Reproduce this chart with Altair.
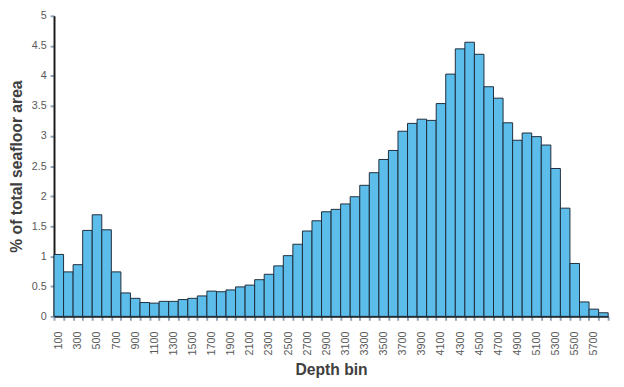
import altair as alt
import pandas as pd

depths = list(range(100, 5900, 100))
pct = [1.03, 0.74, 0.86, 1.43, 1.69, 1.44, 0.74, 0.39, 0.30, 0.23,
       0.22, 0.25, 0.25, 0.28, 0.30, 0.34, 0.42, 0.41, 0.44, 0.49,
       0.52, 0.61, 0.70, 0.84, 1.01, 1.20, 1.42, 1.59, 1.74, 1.78,
       1.87, 1.99, 2.18, 2.39, 2.61, 2.76, 3.08, 3.21, 3.28, 3.26,
       3.54, 4.03, 4.45, 4.56, 4.36, 3.82, 3.63, 3.22, 2.93, 3.05,
       2.99, 2.85, 2.46, 1.80, 0.88, 0.24, 0.12, 0.06]
label_values = list(range(100, 5800, 200))
boundary_values = list(range(50, 5900, 100))
y_ticks = [i * 0.5 for i in range(11)]

df = pd.DataFrame({"depth": depths, "pct": pct})
df["x0"] = df["depth"] - 50
df["x1"] = df["depth"] + 50

FONT = "Liberation Sans"
xscale = alt.Scale(domain=[50, 5850], nice=False, zero=False)
yscale = alt.Scale(domain=[0, 5], nice=False)

bars = alt.Chart(df).mark_bar(
    fill="#5CBDEB", stroke="#1E2B38", strokeWidth=1
).encode(
    x=alt.X("x0:Q", scale=xscale,
            axis=alt.Axis(values=boundary_values, labels=False, title=None,
                          grid=False, tickColor="#8FA6BC", tickSize=4, tickWidth=2,
                          domainColor="#1A1A1A", domainWidth=2)),
    x2="x1:Q",
    y=alt.Y("pct:Q", scale=yscale,
            axis=alt.Axis(values=y_ticks, grid=False,
                          labelExpr="toString(datum.value)",
                          title="% of total seafloor area",
                          titleFont=FONT, titleFontSize=16, titleFontWeight="bold",
                          titleColor="#404040", titlePadding=7,
                          labelFont=FONT, labelFontSize=11, labelColor="#595959",
                          labelPadding=4,
                          tickColor="#8FA6BC", tickSize=4, tickWidth=2,
                          domainColor="#1A1A1A", domainWidth=2)),
    y2=alt.datum(0),
)

labels = alt.Chart(df).mark_point(opacity=0).encode(
    x=alt.X("depth:Q", scale=xscale,
            axis=alt.Axis(values=label_values, ticks=False, domain=False, grid=False,
                          orient="bottom", format="d", labelAngle=270,
                          labelFont=FONT, labelFontSize=11, labelColor="#595959",
                          labelPadding=15,
                          title="Depth bin", titleFont=FONT, titleFontSize=16,
                          titleFontWeight="bold", titleColor="#404040",
                          titlePadding=7)),
)

chart = alt.layer(bars, labels).resolve_axis(x="independent").properties(
    width=566, height=307,
    autosize=alt.AutoSizeParams(type="none"),
    padding={"left": 47, "top": 4, "right": 8, "bottom": 60},
).configure(background="white").configure_view(stroke=None)

chart.save("out.html", embed_options={"renderer": "svg", "actions": False})
